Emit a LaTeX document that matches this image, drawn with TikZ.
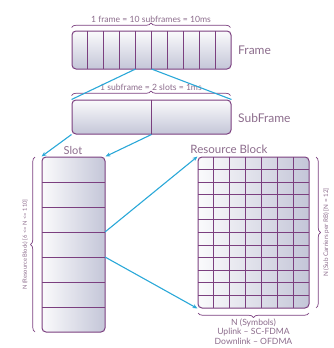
\documentclass[tikz,border=0pt]{standalone}
\usepackage{fontspec}
\setmainfont{Lato}
\usetikzlibrary{decorations.pathreplacing,arrows.meta}
\definecolor{lteborder}{HTML}{7B3F7F}
\definecolor{ltetext}{HTML}{8C6C8C}
\definecolor{ltelink}{HTML}{2AA8D8}
\definecolor{ltefill}{HTML}{C4C6D8}
\begin{document}
\begin{tikzpicture}[x=1pt,y=-1pt,
    box/.style={draw=lteborder,line width=1pt,rounded corners=4pt,inner sep=0pt},
    sep/.style={draw=lteborder,line width=1pt},
    link/.style={draw=ltelink,line width=1.1pt},
    brc/.style={draw=lteborder,line width=0.7pt,decorate,decoration={brace,amplitude=4.5pt}},
    lbl/.style={text=ltetext,inner sep=0pt}]
    \useasboundingbox (0,0) rectangle (334,348);
    %frame and subframe
    \node (frame) at (151.5,50) [box,minimum width=159pt,minimum height=38pt,top color=white!92!ltefill,bottom color=ltefill]{};
    \node (subframe) at (151.5,117) [box,minimum width=159pt,minimum height=34pt,top color=white!92!ltefill,bottom color=ltefill]{};
    \foreach \k in {1,...,9}
        \draw [sep] (72+\k*15.9,31) -- (72+\k*15.9,69);
    \draw [sep] (subframe.north) -- (subframe.south);
    \coordinate (f5a) at (135.6,69);
    \coordinate (f5b) at (151.5,69);
    \node (lframe) at (238,50) [lbl,anchor=west,font=\fontsize{12}{14}\selectfont]{Frame};
    \node (lsub) at (238,118) [lbl,anchor=west,font=\fontsize{12}{14}\selectfont]{SubFrame};
    \draw [brc] (frame.north west)++(0,-3) -- ++(159,0) node[midway,above=5pt,lbl,font=\fontsize{8.6}{10}\selectfont]{1 frame = 10 subframes = 10ms};
    \draw [brc] (subframe.north west)++(0,-4) -- ++(159,0) node[midway,above=5pt,lbl,font=\fontsize{8.6}{10}\selectfont]{1 subframe = 2 slots = 1ms};
    
    %slot
    \node (slot) at (73.5,244.5) [box,minimum width=63pt,minimum height=175pt,left color=white!92!ltefill,right color=ltefill]{};
    \foreach \k in {1,...,6}
        \draw [sep] (42,157+\k*25) -- (105,157+\k*25);
    \coordinate (s4a) at (105,232);
    \coordinate (s4b) at (105,257);
    \node (lslot) at (73,150) [lbl,font=\fontsize{11}{13}\selectfont]{Slot};
    \draw [brc] (35,332) -- (35,157) node[midway,left=7pt,lbl,anchor=south,rotate=90,font=\fontsize{5.8}{7}\selectfont]{N (Resource Block) [6 <= N <= 110]};
    
    %resource block
    \node (rb) at (253.5,232.5) [box,minimum width=111pt,minimum height=151pt,left color=white!92!ltefill,right color=ltefill]{};
    \foreach \k in {1,...,6}
        \draw [sep] (198+\k*15.857,157) -- (198+\k*15.857,308);
    \foreach \k in {1,...,11}
        \draw [sep] (198,157+\k*12.583) -- (309,157+\k*12.583);
    \node (lrb) at (229,149) [lbl,font=\fontsize{11.5}{13}\selectfont]{Resource Block};
    \draw [brc] (316,157) -- (316,308) node[midway,right=7pt,lbl,anchor=north,rotate=90,font=\fontsize{6.3}{7}\selectfont]{N (Sub Carriers per RB) [N = 12]};
    \draw [brc] (309,313) -- (198,313) node[midway,below=5pt,lbl,align=center,font=\fontsize{8.6}{9.6}\selectfont]{N (Symbols)\\Uplink -- SC-FDMA\\Downlink -- OFDMA};
    
    %links
    \draw [link] (f5a) -- (subframe.north west);
    \draw [link] (f5b) -- (subframe.north east);
    \draw [link,-{Stealth[length=5pt,width=4pt]}] (subframe.south west) -- (slot.north west);
    \draw [link,-{Stealth[length=5pt,width=4pt]}] (subframe.south) -- (slot.north east);
    \draw [link,-{Stealth[length=5pt,width=4pt]}] (s4a) -- (rb.north west);
    \draw [link,-{Stealth[length=5pt,width=4pt]}] (s4b) -- (rb.south west);
\end{tikzpicture}
\end{document}
